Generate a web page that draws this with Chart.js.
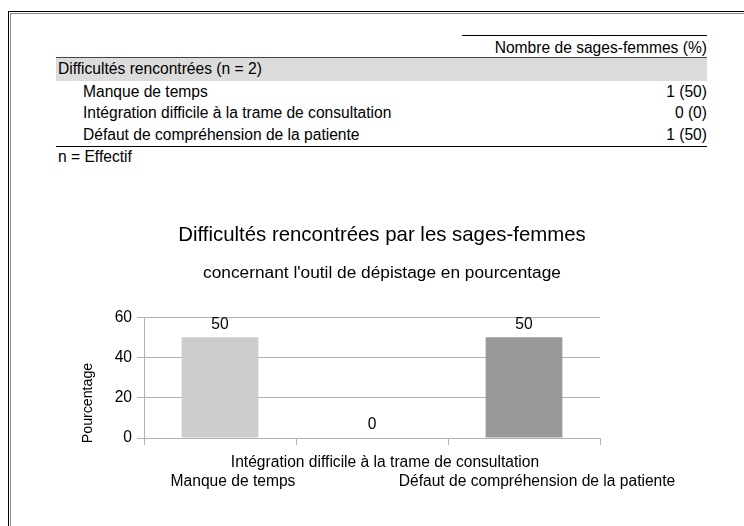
<!DOCTYPE html>
<html lang="fr">
<head>
<meta charset="utf-8">
<title>Difficultés rencontrées par les sages-femmes</title>
<script src="https://cdn.jsdelivr.net/npm/chart.js@4/dist/chart.umd.min.js"></script>
<style>
  html, body { margin: 0; padding: 0; background: #fff; }
  body {
    position: relative; width: 744px; height: 526px; overflow: hidden;
    font-family: "Liberation Sans", Arial, sans-serif; font-size: 15.6px; color: #000;
  }
  .abs { position: absolute; }
  .line { position: absolute; height: 1px; }
  .txt { position: absolute; height: 20px; line-height: 20px; white-space: nowrap; }
  .right { text-align: right; }
  #chartBox { position: absolute; left: 0; top: 190px; width: 744px; height: 336px; }
</style>
</head>
<body>
<!-- page frame -->
<div class="abs" style="left:8px;top:11px;width:736px;height:1px;background:#000"></div>
<div class="abs" style="left:8px;top:11px;width:1px;height:515px;background:#000"></div>
<div class="abs" style="left:10px;top:13px;width:734px;height:1px;background:#888"></div>
<div class="abs" style="left:10px;top:13px;width:1px;height:513px;background:#888"></div>

<!-- table -->
<div id="table"></div>

<div id="chartBox"><canvas id="barChart"></canvas></div>

<script>
// data
const categories = ['Manque de temps', 'Intégration difficile à la trame de consultation', 'Défaut de compréhension de la patiente'];
const counts = [1, 0, 1];
const percentages = [50, 0, 50];
const totalN = 2;
const yTicks = [0, 20, 40, 60];

const barColors = ['#cccccc', '#b3b3b3', '#999999'];
const gridColor = '#b3b3b3';
const fontFamily = '"Liberation Sans", Arial, sans-serif';

// table above the chart
const table = document.getElementById('table');
function addText(text, left, centerY, right) {
    const d = document.createElement('div');
    d.className = 'txt' + (right ? ' right' : '');
    d.textContent = text;
    d.style.top = (centerY - 10) + 'px';
    if (right) { d.style.right = (744 - left) + 'px'; } else { d.style.left = left + 'px'; }
    table.appendChild(d);
}
function addLine(left, width, top, color) {
    const d = document.createElement('div');
    d.className = 'line';
    d.style.left = left + 'px'; d.style.width = width + 'px';
    d.style.top = top + 'px'; d.style.background = color;
    table.appendChild(d);
}
addLine(462, 245, 35, '#000');
addText('Nombre de sages-femmes (%)', 707, 48, true);
const band = document.createElement('div');
band.className = 'abs';
band.style.cssText = 'left:56px;top:58px;width:651px;height:23px;background:#dcdcdc';
table.appendChild(band);
addLine(56, 651, 57, '#444');
addText('Difficultés rencontrées (n = ' + totalN + ')', 58, 69);
const rowY = [92, 113, 135];
categories.forEach((c, i) => {
    addText(c, 83, rowY[i]);
    addText(counts[i] + ' (' + percentages[i] + ')', 707, rowY[i], true);
});
addLine(56, 651, 146, '#000');
addText('n = Effectif', 58, 157);

// value labels above bars + y axis title
const valueLabels = {
    id: 'valueLabels',
    afterDatasetsDraw(chart) {
        const ctx = chart.ctx;
        const meta = chart.getDatasetMeta(0);
        ctx.save();
        ctx.fillStyle = '#000';
        ctx.textAlign = 'center';
        ctx.textBaseline = 'middle';
        ctx.font = '15.6px ' + fontFamily;
        meta.data.forEach((bar, i) => {
            ctx.fillText(String(percentages[i]), bar.x, bar.y - 13);
        });
        ctx.translate(chart.chartArea.left - 56, chart.chartArea.bottom - 35);
        ctx.rotate(-Math.PI / 2);
        ctx.font = '14.2px ' + fontFamily;
        ctx.fillText('Pourcentage', 0, 0);
        ctx.restore();
    }
};

const barCtx = document.getElementById('barChart').getContext('2d');
new Chart(barCtx, {
    type: 'bar',
    data: {
        labels: categories,
        datasets: [{
            data: percentages,
            backgroundColor: barColors,
            categoryPercentage: 1,
            barPercentage: 0.505
        }]
    },
    options: {
        responsive: true,
        maintainAspectRatio: false,
        animation: false,
        layout: { padding: { left: 20, right: 0, top: 0, bottom: 0 } },
        plugins: {
            legend: { display: false },
            tooltip: { enabled: false },
            title: {
                display: true,
                text: 'Difficultés rencontrées par les sages-femmes',
                color: '#000',
                font: { family: fontFamily, size: 20.4, weight: 'normal', lineHeight: 1.2 },
                padding: { top: 33, bottom: 15 }
            },
            subtitle: {
                display: true,
                text: "concernant l'outil de dépistage en pourcentage",
                color: '#000',
                font: { family: fontFamily, size: 17.3, weight: 'normal', lineHeight: 1.2 },
                padding: { top: 0, bottom: 34 }
            }
        },
        scales: {
            x: {
                offset: true,
                grid: {
                    offset: true,
                    drawOnChartArea: true,
                    color: c => c.index === categories.length ? gridColor : 'rgba(0,0,0,0)',
                    tickColor: gridColor,
                    tickLength: 7
                },
                border: { color: gridColor },
                ticks: {
                    color: '#000',
                    font: { family: fontFamily, size: 15.6, lineHeight: 1.2 },
                    autoSkip: false,
                    maxRotation: 0,
                    minRotation: 0,
                    padding: 8.5,
                    labelOffset: 13,
                    // alternate the labels on two lines so they do not overlap
                    callback: (v, i) => i % 2 === 1 ? [categories[i], ''] : ['', categories[i]]
                },
                afterFit: s => { s.height = 88; s.paddingLeft = 0; s.paddingRight = 144; }
            },
            y: {
                min: 0,
                max: 60,
                afterBuildTicks: s => { s.ticks = yTicks.map(v => ({ value: v })); },
                grid: { color: gridColor, tickColor: gridColor, tickLength: 7 },
                border: { color: gridColor },
                ticks: {
                    color: '#000',
                    font: { family: fontFamily, size: 15.6 },
                    padding: 5
                },
                afterFit: s => { s.width = 124; }
            }
        }
    },
    plugins: [valueLabels]
});
</script>
</body>
</html>
